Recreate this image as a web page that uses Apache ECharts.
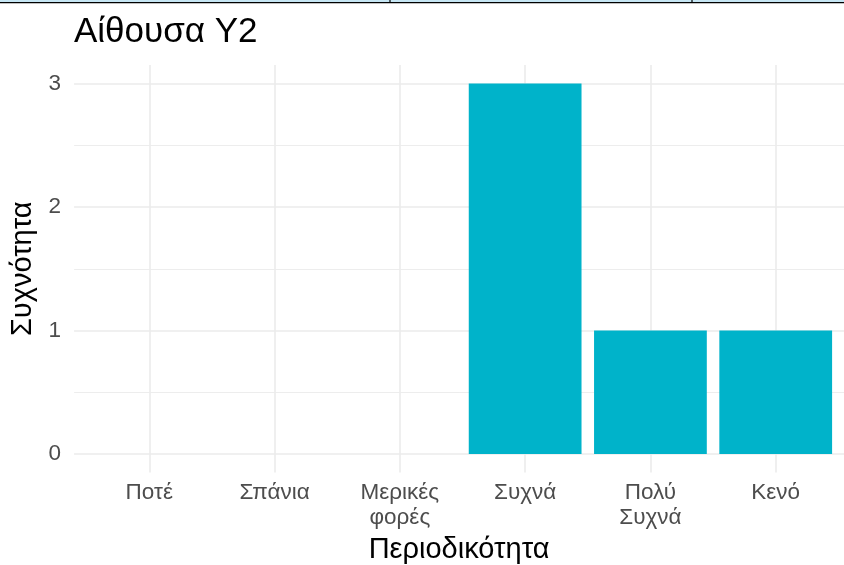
<!DOCTYPE html>
<html>
<head>
<meta charset="utf-8">
<script src="https://cdn.jsdelivr.net/npm/echarts@6/dist/echarts.min.js"></script>
<style>
html,body{margin:0;padding:0;background:#fff;}
#c{width:844px;height:565px;}
</style>
</head>
<body>
<div id="c"></div>
<script>
const categories = ["Ποτέ", "Σπάνια", "Μερικές\nφορές", "Συχνά", "Πολύ\nΣυχνά", "Κενό"];
const counts = [0, 0, 0, 3, 1, 1];
const yMajorTicks = [0, 1, 2, 3];
const yMinorTicks = [0.5, 1.5, 2.5];
const titleText = "Αίθουσα Υ2";
const xTitle = "Περιοδικότητα";
const yTitle = "Συχνότητα";

const FONT = "Liberation Sans, Arial, Helvetica, sans-serif";
const xPositions = categories.map((c, i) => i);

const chart = echarts.init(document.getElementById('c'), null, {renderer: 'canvas'});
chart.setOption({
  animation: false,
  backgroundColor: '#ffffff',
  title: {
    text: titleText,
    left: 69, top: 10,
    textStyle: {fontFamily: FONT, fontSize: 35, fontWeight: 'normal', color: '#000'}
  },
  grid: {left: 74.1, top: 65, right: 0, height: 407.5, containLabel: false, outerBoundsMode: 'none'},
  xAxis: [{
    type: 'value', min: -0.6, max: 5.545,
    axisLine: {show: false}, axisTick: {show: false, customValues: xPositions},
    splitLine: {show: true, lineStyle: {color: '#ebebeb', width: 1.6}},
    axisLabel: {
      customValues: xPositions, margin: 8,
      formatter: v => categories[Math.round(v)] || '',
      fontFamily: FONT, fontSize: 22.5, color: '#4d4d4d', lineHeight: 25
    },
    name: xTitle, nameLocation: 'middle', nameGap: 62,
    nameTextStyle: {fontFamily: FONT, fontSize: 29, color: '#000'}
  }],
  yAxis: [{
    type: 'value', min: -0.15, max: 3.15,
    axisLine: {show: false}, axisTick: {show: false, customValues: yMajorTicks},
    splitLine: {show: true, lineStyle: {color: '#ebebeb', width: 1.6}},
    axisLabel: {customValues: yMajorTicks, margin: 13, fontFamily: FONT, fontSize: 22.5, color: '#4d4d4d'},
    name: yTitle, nameLocation: 'middle', nameGap: 34, nameRotate: 90,
    nameTextStyle: {fontFamily: FONT, fontSize: 29, color: '#000'}
  }, {
    type: 'value', min: -0.15, max: 3.15, position: 'left',
    axisLine: {show: false}, axisTick: {show: false, customValues: yMinorTicks},
    axisLabel: {show: false, customValues: yMinorTicks},
    splitLine: {show: true, lineStyle: {color: '#ebebeb', width: 0.9}}
  }],
  series: [{
    type: 'bar',
    xAxisIndex: 0, yAxisIndex: 0,
    data: counts.map((v, i) => [i, v]),
    barWidth: '90%',
    itemStyle: {color: '#00B3CA'},
    z: 5
  }],
  graphic: [
    {type: 'rect', shape: {x: 0, y: 0, width: 844, height: 2}, style: {fill: '#c6e6f4'}, silent: true},
    {type: 'line', shape: {x1: 0, y1: 2.6, x2: 844, y2: 2.6}, style: {stroke: '#000', lineWidth: 1.4}, silent: true},
    {type: 'line', shape: {x1: 390, y1: 0, x2: 390, y2: 2}, style: {stroke: '#000', lineWidth: 1.2}, silent: true},
    {type: 'line', shape: {x1: 692, y1: 0, x2: 692, y2: 2}, style: {stroke: '#000', lineWidth: 1.2}, silent: true}
  ]
});
</script>
</body>
</html>
